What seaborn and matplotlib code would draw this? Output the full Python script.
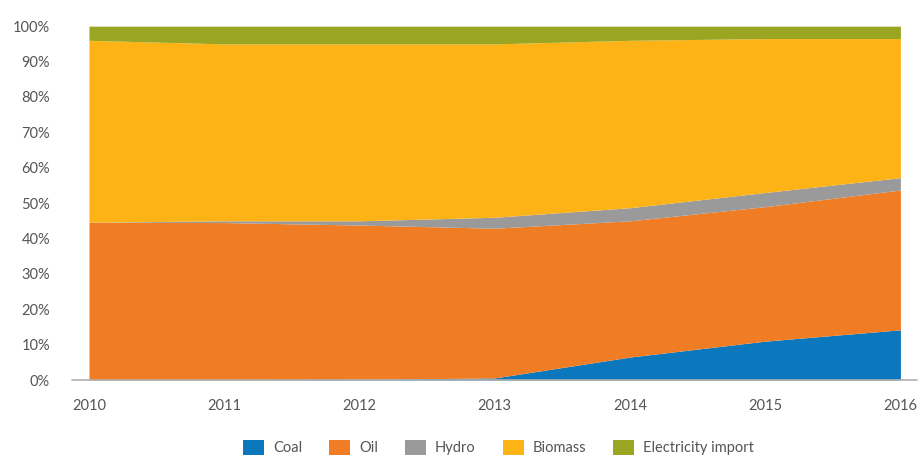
import numpy as np
import pandas as pd
import matplotlib
matplotlib.use("Agg")
import matplotlib.pyplot as plt
import seaborn as sns
from matplotlib.patches import Patch
from matplotlib.ticker import PercentFormatter

years = [2010, 2011, 2012, 2013, 2014, 2015, 2016]
coal = [0.0, 0.0, 0.2, 0.6, 6.5, 11.0, 14.2]
oil = [44.6, 44.5, 43.6, 42.3, 38.5, 38.0, 39.5]
hydro = [0.0, 0.5, 1.2, 3.1, 3.7, 4.0, 3.5]
electricity_import = [4.0, 5.0, 5.0, 5.0, 4.0, 3.5, 3.5]
biomass = [100 - c - o - h - e for c, o, h, e in zip(coal, oil, hydro, electricity_import)]

series_names = ["Coal", "Oil", "Hydro", "Biomass", "Electricity import"]
colors = ["#0b78bd", "#f07d24", "#9a9a9a", "#fdb316", "#9aa622"]

df = pd.DataFrame({"Year": years, "Coal": coal, "Oil": oil, "Hydro": hydro,
                   "Biomass": biomass, "Electricity import": electricity_import})

sns.set_theme(style="white")
plt.rcParams["font.family"] = ["Lato", "DejaVu Sans"]

fig = plt.figure(figsize=(9.2, 4.59), dpi=100)
ax = fig.add_axes([0.0967, 0.172, 0.882, 0.771])

ax.stackplot(df["Year"], [df[n] for n in series_names], colors=colors, linewidth=0)

ax.set_xlim(2010, 2016)
ax.set_ylim(0, 100)
ax.set_yticks(range(0, 101, 10))
ax.yaxis.set_major_formatter(PercentFormatter(decimals=0))
ax.set_xticks(years)
ax.set_xticklabels([str(y) for y in years])
ax.tick_params(axis="y", length=0, pad=28, labelsize=10.5, labelcolor="#555555")
ax.tick_params(axis="x", length=0, pad=14, labelsize=10.5, labelcolor="#555555")
sns.despine(ax=ax, left=True, bottom=True, top=True, right=True)
ax.set_xlabel("")
ax.set_ylabel("")

# baseline axis line extending beyond plot
ax.plot([-0.021, 1.02], [0, 0], transform=ax.transAxes, color="#b0b0b0",
        linewidth=1.2, clip_on=False, zorder=5)

handles = [Patch(facecolor=c, edgecolor="none") for c in colors]
fig.legend(handles, series_names, loc="center", bbox_to_anchor=(0.542, 0.025),
           ncol=5, frameon=False, fontsize=10.5, handlelength=1.43, handleheight=1.17,
           columnspacing=1.85, handletextpad=0.62, labelcolor="#555555",
           borderpad=0, borderaxespad=0)

fig.savefig("out.png", dpi=100)
